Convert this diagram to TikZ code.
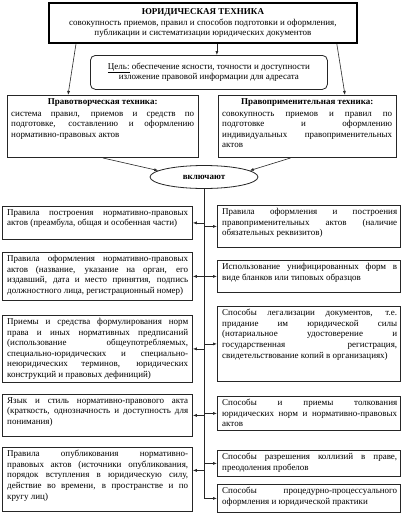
\documentclass[tikz,border=0pt]{standalone}
\usepackage{fontspec}
\setmainfont{Liberation Serif}
\usetikzlibrary{arrows.meta,shapes.geometric}
\newcommand\fsz{\fontsize{9}{10.6}\selectfont}
\begin{document}
\hyphenpenalty=10000
\tolerance=10000
\begin{tikzpicture}[x=1pt,y=-1pt,
  box/.style={draw=black!85, line width=0.8pt, anchor=north west, inner sep=0pt},
  txt/.style={anchor=north west, inner sep=0pt, align=justify, font=\fsz},
  conn/.style={draw=black!85, line width=0.6pt, -{Latex[length=4pt,width=3pt]}},
  plain/.style={draw=black!85, line width=0.6pt}]
\fill[white] (0,0) rectangle (402,531);
\useasboundingbox (0,0) rectangle (402,531);

% top
\node[draw=black, line width=1.8pt, anchor=north west, minimum width=308pt, minimum height=40pt,
  inner sep=0pt, align=center, font=\fsz] (T) at (48,2)
  {\textbf{ЮРИДИЧЕСКАЯ ТЕХНИКА}\\[0.4pt]
   совокупность приемов, правил и способов подготовки и оформления,\\
   публикации и систематизации юридических документов};

% goal
\node[draw=black!85, line width=0.8pt, rounded corners=5pt, anchor=north west, minimum width=237pt,
  minimum height=34pt, inner sep=0pt, align=center, font=\fsz] (G) at (90,55)
  {\underline{Цель:} обеспечение ясности, точности и доступности\\
   изложение правовой информации для адресата};

% A and B
\node[box, line width=1pt, minimum width=191pt, minimum height=62pt] (A) at (7,95) {};
\node[txt, text width=183pt] (At) at ([xshift=4pt,yshift=-3pt]A.north west)
  {{\centering\bfseries Правотворческая техника:\par}\vspace{1.5pt}
   система правил, приемов и средств по\linebreak подготовке, составлению и оформлению\linebreak нормативно-правовых актов};
\node[box, line width=1pt, minimum width=178pt, minimum height=62pt] (B) at (218,95) {};
\node[txt, text width=170pt] (Bt) at ([xshift=4pt,yshift=-3pt]B.north west)
  {{\centering\bfseries Правоприменительная техника:\par}\vspace{1.5pt}
   совокупность приемов и правил по\linebreak подготовке и оформлению\linebreak индивидуальных правоприменительных\linebreak актов};

% ellipse
\node[ellipse, draw=black!85, line width=0.8pt, minimum width=108pt, minimum height=23pt,
  inner sep=0pt, font=\fsz\bfseries] (E) at (204,177) {включают};

% left column
\node[box, minimum width=190pt, minimum height=33pt] (L1) at (2,206) {};
\node[txt, text width=181pt] (L1t) at ([xshift=5pt,yshift=-3pt]L1.north west)
  {Правила построения нормативно-правовых\linebreak актов (преамбула, общая и особенная части)};
\node[box, minimum width=190pt, minimum height=48pt] (L2) at (2,252) {};
\node[txt, text width=181pt] (L2t) at ([xshift=5pt,yshift=-3pt]L2.north west)
  {Правила оформления нормативно-правовых\linebreak актов (название, указание на орган, его\linebreak издавший, дата и место принятия, подпись\linebreak должностного лица, регистрационный номер)};
\node[box, minimum width=190pt, minimum height=67pt] (L3) at (2,315) {};
\node[txt, text width=181pt] (L3t) at ([xshift=5pt,yshift=-3pt]L3.north west)
  {Приемы и средства формулирования норм\linebreak права и иных нормативных предписаний\linebreak (использование общеупотребляемых,\linebreak специально-юридических и специально-\linebreak неюридических терминов, юридических\linebreak конструкций и правовых дефиниций)};
\node[box, minimum width=190pt, minimum height=42pt] (L4) at (2,394) {};
\node[txt, text width=181pt] (L4t) at ([xshift=5pt,yshift=-3pt]L4.north west)
  {Язык и стиль нормативно-правового акта\linebreak (краткость, однозначность и доступность для\linebreak понимания)};
\node[box, minimum width=190pt, minimum height=64pt] (L5) at (2,447) {};
\node[txt, text width=181pt] (L5t) at ([xshift=5pt,yshift=-3pt]L5.north west)
  {Правила опубликования нормативно-\linebreak правовых актов (источники опубликования,\linebreak порядок вступления в юридическую силу,\linebreak действие во времени, в пространстве и по\linebreak кругу лиц)};

% right column
\node[box, minimum width=183pt, minimum height=42pt] (R1) at (217,205) {};
\node[txt, text width=175pt] (R1t) at ([xshift=5pt,yshift=-3pt]R1.north west)
  {Правила оформления и построения\linebreak правоприменительных актов (наличие\linebreak обязательных реквизитов)};
\node[box, minimum width=183pt, minimum height=32pt] (R2) at (217,260) {};
\node[txt, text width=175pt] (R2t) at ([xshift=5pt,yshift=-3pt]R2.north west)
  {Использование унифицированных форм в\linebreak виде бланков или типовых образцов};
\node[box, minimum width=183pt, minimum height=75pt] (R3) at (217,306) {};
\node[txt, text width=175pt] (R3t) at ([xshift=5pt,yshift=-3pt]R3.north west)
  {Способы легализации документов, т.е.\linebreak придание им юридической силы\linebreak (нотариальное удостоверение и\linebreak государственная регистрация,\linebreak свидетельствование копий в организациях)};
\node[box, minimum width=183pt, minimum height=34pt] (R4) at (217,396) {};
\node[txt, text width=175pt] (R4t) at ([xshift=5pt,yshift=-3pt]R4.north west)
  {Способы и приемы толкования\linebreak юридических норм и нормативно-правовых\linebreak актов};
\node[box, minimum width=183pt, minimum height=26pt] (R5) at (217,450) {};
\node[txt, text width=175pt] (R5t) at ([xshift=5pt,yshift=-3pt]R5.north west)
  {Способы разрешения коллизий в праве,\linebreak преодоления пробелов};
\node[box, minimum width=183pt, minimum height=28pt] (R6) at (217,484) {};
\node[txt, text width=175pt] (R6t) at ([xshift=5pt,yshift=-3pt]R6.north west)
  {Способы процедурно-процессуального\linebreak оформления и юридической практики};

% connectors top
\draw[conn] ([xshift=8pt]G.north |- T.south) -- ([xshift=8pt]G.north);
\draw[conn] ([xshift=28pt]T.south west) -- ([xshift=61pt]A.north west);
\draw[conn] ([xshift=-21pt]T.south east) -- ([xshift=127pt]B.north west);
\draw[conn] (A.south) -- (E.172);
\draw[conn] ([xshift=-17pt]B.south) -- (E.8);

% spine
\draw[conn] (E.south) |- (R6.west);
\foreach \n in {L1,L2,L3,L4}{\draw[conn] (E.south |- \n.east) -- (\n.east);}
\draw[conn] ([yshift=9pt]E.south |- L5.east) -- ([yshift=9pt]L5.east);
\foreach \n in {R1,R2,R3,R4,R5}{\draw[conn] (E.south |- \n.west) -- (\n.west);}
\end{tikzpicture}
\end{document}
